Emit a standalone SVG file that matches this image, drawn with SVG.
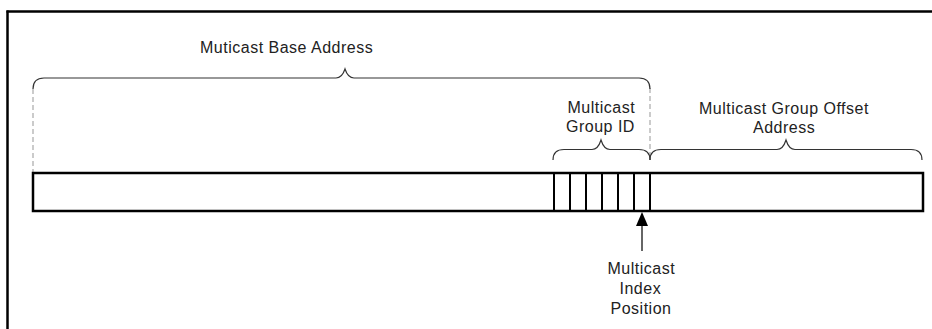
<svg xmlns="http://www.w3.org/2000/svg" width="932" height="329" viewBox="0 0 932 329">
<style>
text{font-family:"Liberation Sans",Arial,sans-serif;font-size:16px;letter-spacing:0.5px;fill:#222}
.brace{fill:none;stroke:#333;stroke-width:1.2}
.dash{stroke:#bbb;stroke-width:1.5;stroke-dasharray:5,3;fill:none}
.div{stroke:#000;stroke-width:2}
</style>
<rect width="932" height="329" fill="#fff"/>
<g id="frame">
<line x1="6.5" y1="11.5" x2="932" y2="11.5" stroke="#000" stroke-width="2.5"/>
<line x1="7.5" y1="10.5" x2="7.5" y2="329" stroke="#000" stroke-width="2.5"/>
</g>
<g id="connectors">
<line class="dash" x1="33" y1="89" x2="33" y2="173"/>
<line class="dash" x1="650" y1="88" x2="650" y2="160"/>
<path class="brace" d="M33,89 Q33,78 44,78 L336,78 Q342,78 345,69 Q348,78 354,78 L639,78 Q650,78 650,89"/>
<path class="brace" d="M553,160 Q553,149.5 564,149.5 L592,149.5 Q598,149.5 601,140 Q604,149.5 610,149.5 L639,149.5 Q650,149.5 650,160"/>
<path class="brace" d="M650,160 Q650,149.5 661,149.5 L777,149.5 Q783,149.5 786,140 Q789,149.5 795,149.5 L911,149.5 Q922,149.5 922,160"/>
<line x1="642" y1="225" x2="642" y2="251" stroke="#333" stroke-width="1.5"/>
<polygon points="642,212 636,226 648,226" fill="#000"/>
</g>
<g id="bar">
<rect x="33" y="173" width="890" height="38" fill="#fff" stroke="#000" stroke-width="2.5"/>
<line class="div" x1="554" y1="173" x2="554" y2="211"/>
<line class="div" x1="570" y1="173" x2="570" y2="211"/>
<line class="div" x1="586" y1="173" x2="586" y2="211"/>
<line class="div" x1="602" y1="173" x2="602" y2="211"/>
<line class="div" x1="618" y1="173" x2="618" y2="211"/>
<line class="div" x1="634" y1="173" x2="634" y2="211"/>
<line class="div" x1="650" y1="173" x2="650" y2="211"/>
</g>
<g id="label-base"><text x="200" y="52.5">Muticast Base Address</text></g>
<g id="label-group"><text x="567.5" y="112.5">Multicast</text><text x="566" y="131.5">Group ID</text></g>
<g id="label-offset"><text x="699" y="114">Multicast Group Offset</text><text x="753" y="132.5">Address</text></g>
<g id="label-index"><text x="607.5" y="274">Multicast</text><text x="619.5" y="293.5">Index</text><text x="610.5" y="313.5">Position</text></g>
</svg>
